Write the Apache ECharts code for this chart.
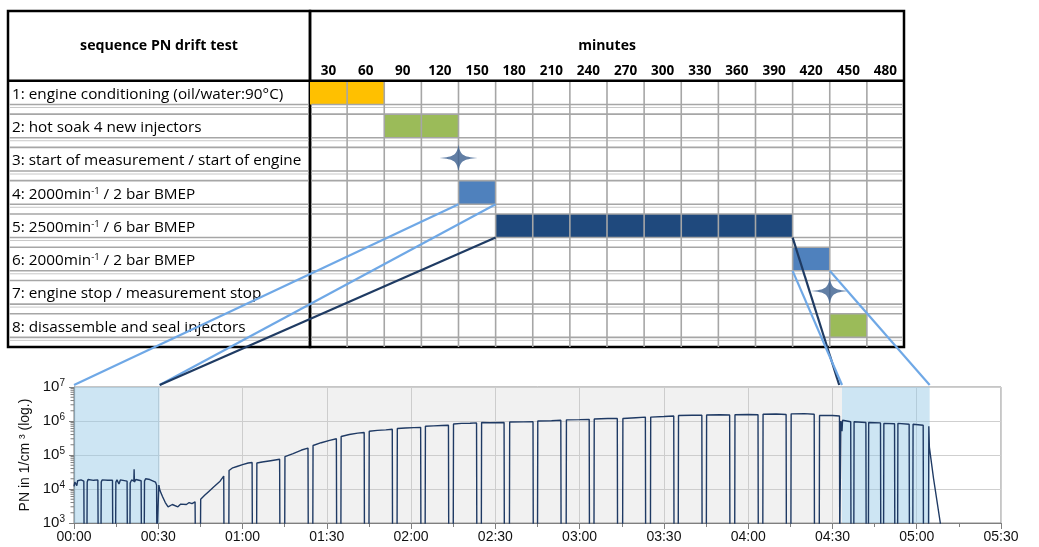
<!DOCTYPE html>
<html>
<head>
<meta charset="utf-8">
<script src="https://cdn.jsdelivr.net/npm/echarts@6/dist/echarts.min.js"></script>
<style>
  html, body { margin: 0; padding: 0; background: #ffffff; }
  #chart { width: 1039px; height: 547px; }
</style>
</head>
<body>
<div id="chart"></div>
<script>
// ---- sequence table ----
const minuteTicks = [30, 60, 90, 120, 150, 180, 210, 240, 270, 300, 330, 360, 390, 420, 450, 480];
const stepLabels = [
  '1: engine conditioning (oil/water:90°C)',
  '2: hot soak 4 new injectors',
  '3: start of measurement / start of engine',
  '4: 2000min{sup|-1} / 2 bar BMEP',
  '5: 2500min{sup|-1} / 6 bar BMEP',
  '6: 2000min{sup|-1} / 2 bar BMEP',
  '7: engine stop / measurement stop',
  '8: disassemble and seal injectors'
];
// [step index, from minute, to minute, phase]
const stepBlocks = [
  [0, 0, 60, 'conditioning'],
  [1, 60, 120, 'soak'],
  [3, 120, 150, 'lowLoad'],
  [4, 150, 390, 'highLoad'],
  [5, 390, 420, 'lowLoad'],
  [7, 420, 450, 'soak']
];
// [step index, minute] : single events (engine start / stop)
const stepEvents = [[2, 120], [6, 420]];

// ---- PN trace, minutes since start vs. particles per cm³ (300 = instrument off / below range) ----
const pnTrace = [
  [0, 12000], [0.3, 16000], [0.8, 17500], [1.0, 12500], [1.3, 17500], [2.5, 18500], [3.5, 17000], [3.6, 300],
  [4.6, 300], [4.7, 16000], [5.0, 19000], [7.0, 18000], [8.5, 18500], [8.6, 300],
  [9.6, 300], [9.7, 16000], [10.0, 18500], [12.0, 18000], [13.7, 18000], [13.8, 300],
  [14.8, 300], [14.9, 16000], [15.3, 18500], [16.0, 14000], [16.5, 18500], [18.9, 17000], [19.0, 300],
  [19.9, 300], [20.0, 15000], [20.5, 18500], [21.3, 17000], [21.4, 38000], [21.5, 16000], [22.0, 19000], [23.9, 17500], [24.0, 300],
  [25.0, 300], [25.1, 17000], [25.5, 20000], [27.0, 19000], [29.0, 16000], [29.4, 13000], [29.5, 300],
  [30.1, 300], [30.2, 13000], [30.6, 9000], [31.0, 10000], [31.5, 6000], [32.5, 4000], [33.5, 3000], [35.0, 3500],
  [37.0, 3000], [38.0, 3600], [40.0, 3500], [41.0, 4000], [42.0, 3700], [43.1, 4200], [43.2, 300],
  [45.0, 300], [45.1, 5000], [46.5, 6500], [48.0, 8500], [50.0, 12000], [52.0, 17000], [53.3, 24000], [53.4, 300],
  [55.1, 300], [55.2, 35000], [56.5, 42000], [58.0, 46000], [60.0, 52000], [62.0, 58000], [63.4, 60000], [63.5, 300],
  [65.0, 300], [65.1, 58000], [67.0, 62000], [70.0, 68000], [73.2, 75000], [73.3, 300],
  [75.0, 300], [75.1, 90000], [78.0, 110000], [81.0, 140000], [83.3, 160000], [83.4, 300],
  [85.0, 300], [85.1, 190000], [88.0, 230000], [91.0, 270000], [93.4, 300000], [93.5, 300],
  [95.0, 300], [95.1, 350000], [98.0, 400000], [101.0, 440000], [103.3, 460000], [103.4, 300],
  [105.0, 300], [105.1, 500000], [108.0, 530000], [111.0, 550000], [113.3, 570000], [113.4, 300],
  [115.0, 300], [115.1, 600000], [118.0, 620000], [121.0, 640000], [123.4, 650000], [123.5, 300],
  [125.0, 300], [125.1, 700000], [128.0, 720000], [131.0, 740000], [133.3, 750000], [133.4, 300],
  [135.0, 300], [135.1, 820000], [138.0, 850000], [141.0, 860000], [143.3, 880000], [143.4, 300],
  [145.0, 300], [145.1, 900000], [148.0, 890000], [153.1, 900000], [153.2, 300],
  [155.0, 300], [155.1, 930000], [160.0, 940000], [163.4, 950000], [163.5, 300],
  [165.0, 300], [165.1, 1000000], [170.0, 1020000], [173.3, 1050000], [173.4, 300],
  [175.2, 300], [175.3, 1080000], [180.0, 1100000], [183.4, 1120000], [183.5, 300],
  [185.1, 300], [185.2, 1150000], [190.0, 1180000], [193.4, 1180000], [193.5, 300],
  [195.3, 300], [195.4, 1180000], [200.0, 1250000], [203.4, 1300000], [203.5, 300],
  [205.2, 300], [205.3, 1300000], [210.0, 1350000], [213.5, 1400000], [213.6, 300],
  [215.1, 300], [215.2, 1450000], [220.0, 1480000], [223.5, 1480000], [223.6, 300],
  [225.1, 300], [225.2, 1500000], [230.0, 1520000], [233.4, 1500000], [233.5, 300],
  [235.2, 300], [235.3, 1520000], [240.0, 1550000], [243.5, 1530000], [243.6, 300],
  [245.2, 300], [245.3, 1580000], [250.0, 1600000], [253.5, 1560000], [253.6, 300],
  [255.2, 300], [255.3, 1620000], [260.0, 1650000], [263.5, 1580000], [263.6, 300],
  [265.3, 300], [265.4, 1450000], [270.0, 1450000], [272.5, 1400000], [272.6, 300],
  [272.9, 300], [273.0, 1000000], [273.4, 500000], [273.6, 1050000], [276.5, 950000], [276.6, 300],
  [277.6, 300], [277.7, 950000], [281.9, 900000], [282.0, 300],
  [282.8, 300], [282.9, 900000], [287.1, 880000], [287.2, 300],
  [288.2, 300], [288.3, 850000], [292.1, 830000], [292.2, 300],
  [293.2, 300], [293.3, 850000], [297.3, 800000], [297.4, 300],
  [298.6, 300], [298.7, 800000], [302.3, 750000], [302.4, 300],
  [304.2, 300], [304.3, 700000], [304.5, 170000], [306.0, 20000], [308.4, 1000], [308.5, 300]
];
// trace sections shown in detail by steps 4 and 6, and the run in between
const lowLoadWindows = [[0, 30.5], [273.4, 304.6]];
const runWindow = [30.5, 273.4];
const logMinorTicks = [2e3, 3e3, 4e3, 5e3, 6e3, 7e3, 8e3, 9e3, 2e4, 3e4, 4e4, 5e4, 6e4, 7e4, 8e4, 9e4,
  2e5, 3e5, 4e5, 5e5, 6e5, 7e5, 8e5, 9e5, 2e6, 3e6, 4e6, 5e6, 6e6, 7e6, 8e6, 9e6];

// ---- styling ----
const phaseColors = { conditioning: '#ffc000', soak: '#9bbb59', lowLoad: '#4f81bd', highLoad: '#1f497d' };
const GRID_GRAY = '#a6a6a6';
const MAIN = 0.71;           // share of a table row taken by the cell, the rest is the spacer
const TABLE_FONT = '"Open Sans", Lato, sans-serif';
const PLOT_FONT = '"Liberation Sans", Arial, sans-serif';
const STAR = 'path://M0,-10 C0.9,-2.2 2.2,-1 10,0 C2.2,1 0.9,2.2 0,10 C-0.9,2.2 -2.2,1 -10,0 C-2.2,-1 -0.9,-2.2 0,-10 Z';

function hLine(x1, x2, y, color, w) {
  return { type: 'line', shape: { x1: x1, y1: y, x2: x2, y2: y }, style: { stroke: color, lineWidth: w } };
}
function vLine(x, y1, y2, color, w) {
  return { type: 'line', shape: { x1: x, y1: y1, x2: x, y2: y2 }, style: { stroke: color, lineWidth: w } };
}

// horizontal rules of one table row, across one grid
function rowRules(params, api, r) {
  const cs = params.coordSys;
  const x1 = cs.x + 1.5, x2 = cs.x + cs.width - 1.5;
  const out = [];
  if (r > 0) out.push(hLine(x1, x2, api.coord([0, r])[1], GRID_GRAY, 1.6));
  out.push(hLine(x1, x2, api.coord([0, r + MAIN])[1], GRID_GRAY, 1.6));
  out.push(hLine(x1, x2, api.coord([0, r + MAIN + 0.09])[1], '#c8c8c8', 1));
  return out;
}

const option = {
  animation: false,
  backgroundColor: '#ffffff',
  grid: [
    { left: 8, top: 11, width: 302, height: 336, show: true, borderColor: '#000', borderWidth: 2.5, backgroundColor: 'transparent' },
    { left: 310, top: 11, width: 594, height: 336, show: true, borderColor: '#000', borderWidth: 2.5, backgroundColor: 'transparent' },
    { left: 74, top: 387, right: 38, bottom: 24, show: true, borderColor: '#8c8c8c', borderWidth: 1, backgroundColor: 'transparent' }
  ],
  xAxis: [
    { gridIndex: 0, type: 'value', min: 0, max: 1, show: false },
    { gridIndex: 1, type: 'value', min: 0, max: 480, show: false },
    {
      gridIndex: 2, type: 'value', min: 0, max: 330, interval: 30,
      axisLine: { onZero: false, lineStyle: { color: '#7f7f7f', width: 1.2 } },
      axisTick: { show: true, length: 6, lineStyle: { color: '#7f7f7f' } },
      minorTick: { show: true, splitNumber: 2, length: 4, lineStyle: { color: '#7f7f7f' } },
      splitLine: { show: true, lineStyle: { color: '#cfcfcf', width: 1 } },
      axisLabel: {
        color: '#111', fontFamily: PLOT_FONT, fontSize: 14, margin: 7,
        formatter: function (v) {
          const h = Math.floor(v / 60), m = v % 60;
          return String(h).padStart(2, '0') + ':' + String(m).padStart(2, '0');
        }
      }
    }
  ],
  yAxis: [
    { gridIndex: 0, type: 'value', inverse: true, min: -2.1, max: 8, show: false },
    { gridIndex: 1, type: 'value', inverse: true, min: -2.1, max: 8, show: false },
    {
      gridIndex: 2, type: 'log', logBase: 10, min: 1e3, max: 1e7,
      name: 'PN in 1/cm ³ (log.)', nameLocation: 'middle', nameRotate: 90, nameGap: 40,
      nameTextStyle: { color: '#111', fontFamily: PLOT_FONT, fontSize: 14 },
      axisLine: { show: true, lineStyle: { color: '#7f7f7f', width: 1.2 } },
      axisTick: { show: true, length: 5, lineStyle: { color: '#7f7f7f' } },
      splitLine: { show: true, lineStyle: { color: '#cfcfcf', width: 1 } },
      axisLabel: {
        color: '#111', fontFamily: PLOT_FONT, fontSize: 15, margin: 9,
        formatter: function (v) { return '10{sup|' + Math.round(Math.log10(v)) + '}'; },
        rich: { sup: { fontSize: 10, fontFamily: PLOT_FONT, color: '#111', verticalAlign: 'top', padding: [0, 0, 8, 0] } }
      }
    }
  ],
  series: [
    // table header, left column
    {
      type: 'custom', xAxisIndex: 0, yAxisIndex: 0, z: 3, silent: true, data: [[0]],
      renderItem: function (params, api) {
        const cs = params.coordSys;
        const p = api.coord([0.5, -1.05]);
        return { type: 'group', children: [
          { type: 'text', x: p[0], y: p[1], style: { text: 'sequence PN drift test', font: 'bold 14.2px ' + TABLE_FONT, fill: '#000', align: 'center', verticalAlign: 'middle' } },
          hLine(cs.x, cs.x + cs.width, api.coord([0, 0])[1], '#000', 2.5)
        ] };
      }
    },
    // table header, minutes
    {
      type: 'custom', xAxisIndex: 1, yAxisIndex: 1, z: 3, silent: true, data: [[0]],
      renderItem: function (params, api) {
        const cs = params.coordSys;
        const kids = [];
        const p = api.coord([240, -1.05]);
        kids.push({ type: 'text', x: p[0], y: p[1], style: { text: 'minutes', font: 'bold 14px ' + TABLE_FONT, fill: '#000', align: 'center', verticalAlign: 'middle' } });
        minuteTicks.forEach(function (m) {
          const q = api.coord([m - 15, -0.3]);
          kids.push({ type: 'text', x: q[0], y: q[1], style: { text: String(m), font: 'bold 13.5px ' + TABLE_FONT, fill: '#000', align: 'center', verticalAlign: 'middle' } });
        });
        kids.push(hLine(cs.x, cs.x + cs.width, api.coord([0, 0])[1], '#000', 2.5));
        return { type: 'group', children: kids };
      }
    },
    // step labels and row rules, left column
    {
      type: 'custom', xAxisIndex: 0, yAxisIndex: 0, z: 2, silent: true,
      data: stepLabels.map(function (s, i) { return [0, i]; }),
      renderItem: function (params, api) {
        const r = api.value(1);
        const p = api.coord([0, r + 0.41]);
        const kids = rowRules(params, api, r);
        kids.push({ type: 'text', x: p[0] + 4, y: p[1], style: {
          text: stepLabels[r], font: '15.3px ' + TABLE_FONT, fill: '#000', align: 'left', verticalAlign: 'middle',
          rich: { sup: { fontSize: 9.5, fontFamily: '"Open Sans", sans-serif', fill: '#000', verticalAlign: 'top', padding: [0, 0, 7, 0] } }
        } });
        return { type: 'group', children: kids };
      }
    },
    // phase blocks
    {
      type: 'custom', xAxisIndex: 1, yAxisIndex: 1, z: 1, silent: true,
      data: stepBlocks.map(function (b) { return [b[1], b[2], b[0]]; }),
      renderItem: function (params, api) {
        const b = stepBlocks[params.dataIndex];
        const p0 = api.coord([api.value(0), api.value(2)]);
        const p1 = api.coord([api.value(1), api.value(2) + MAIN]);
        return { type: 'rect', shape: { x: p0[0], y: p0[1], width: p1[0] - p0[0], height: p1[1] - p0[1] }, style: { fill: phaseColors[b[3]] } };
      }
    },
    // grid rules of the time table
    {
      type: 'custom', xAxisIndex: 1, yAxisIndex: 1, z: 2, silent: true,
      data: stepLabels.map(function (s, i) { return [0, i]; }),
      renderItem: function (params, api) {
        const r = api.value(1);
        const kids = rowRules(params, api, r);
        const y1 = api.coord([0, r])[1], y2 = api.coord([0, r + 1])[1];
        minuteTicks.slice(0, -1).forEach(function (m) {
          kids.push(vLine(api.coord([m, 0])[0], y1, y2, GRID_GRAY, 1.6));
        });
        return { type: 'group', children: kids };
      }
    },
    // start / stop events
    {
      type: 'scatter', xAxisIndex: 1, yAxisIndex: 1, z: 4, silent: true,
      symbol: STAR, symbolSize: [38, 27],
      itemStyle: { color: '#3b5f8f' },
      data: stepEvents.map(function (e) { return [e[1], e[0] + 0.32]; })
    },
    // log minor ticks of the PN axis
    {
      type: 'custom', xAxisIndex: 2, yAxisIndex: 2, z: 3, silent: true,
      data: logMinorTicks.map(function (v) { return [0, v]; }),
      renderItem: function (params, api) {
        const p = api.coord([0, api.value(1)]);
        return hLine(p[0] - 3.5, p[0], p[1], '#7f7f7f', 1);
      }
    },
    // PN trace
    {
      type: 'line', xAxisIndex: 2, yAxisIndex: 2, z: 2, silent: true,
      showSymbol: false, clip: true,
      lineStyle: { color: '#1f3a64', width: 1.4 },
      data: pnTrace,
      markArea: {
        silent: true,
        data: lowLoadWindows.map(function (w) {
          return [{ xAxis: w[0], itemStyle: { color: 'rgba(150,200,230,0.48)' } }, { xAxis: w[1] }];
        }).concat([[{ xAxis: runWindow[0], itemStyle: { color: 'rgba(200,200,200,0.25)' } }, { xAxis: runWindow[1] }]])
      }
    }
  ]
};

const chart = echarts.init(document.getElementById('chart'));
chart.setOption(option);

// connectors from the table cells down to the matching trace sections
function tablePt(minute, rowEdge) { return chart.convertToPixel({ gridIndex: 1 }, [minute, rowEdge]); }
function tracePt(minute) {
  const p = chart.convertToPixel({ gridIndex: 2 }, [minute, 1e7]);
  return [p[0], p[1] - 2];
}
const connectors = [
  { from: tablePt(120, 3 + MAIN), to: tracePt(lowLoadWindows[0][0]), color: '#6fa8e6' },
  { from: tablePt(150, 3 + MAIN), to: tracePt(lowLoadWindows[0][1]), color: '#6fa8e6' },
  { from: tablePt(150, 4 + MAIN), to: tracePt(lowLoadWindows[0][1]), color: '#1f3b63' },
  { from: tablePt(390, 4 + MAIN), to: tracePt(lowLoadWindows[1][0] - 1), color: '#1f3b63' },
  { from: tablePt(390, 5 + MAIN), to: tracePt(lowLoadWindows[1][0]), color: '#6fa8e6' },
  { from: tablePt(420, 5 + MAIN), to: tracePt(lowLoadWindows[1][1]), color: '#6fa8e6' }
];
chart.setOption({
  graphic: connectors.map(function (c) {
    return { type: 'line', z: 100, silent: true,
      shape: { x1: c.from[0], y1: c.from[1], x2: c.to[0], y2: c.to[1] },
      style: { stroke: c.color, lineWidth: 2.2 } };
  })
});
</script>
</body>
</html>
